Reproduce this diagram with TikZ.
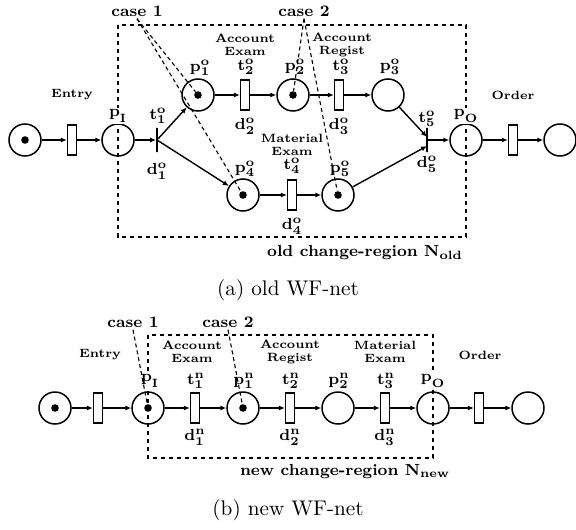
\documentclass[tikz,border=0pt]{standalone}
\usepackage{amsmath}
\usepackage{tikz}
\usetikzlibrary{arrows.meta,positioning}
\newcommand{\lbl}[3]{$\mathrm{#1}^{\mathrm{#2}}_{\mathrm{#3}}$}

\begin{document}
\begin{tikzpicture}[
  x=0.5pt, y=-0.5pt,
  pl/.style={draw, circle, minimum size=16pt, inner sep=0pt, line width=0.75pt},
  tk/.style={circle, fill, minimum size=3.8pt, inner sep=0pt},
  tr/.style={draw, minimum width=4.5pt, minimum height=15pt, inner sep=0pt, line width=0.7pt},
  bar/.style={draw, minimum width=0pt, minimum height=12pt, inner sep=0pt, line width=1pt},
  lb/.style={font=\footnotesize\boldmath, inner sep=0.3pt},
  lbw/.style={lb, fill=white, inner sep=1pt},
  act/.style={font=\fontsize{6}{6.5}\selectfont\bfseries, align=center},
  cas/.style={font=\footnotesize\bfseries, inner sep=1pt},
  reg/.style={dash pattern=on 2.2pt off 1.8pt, line width=0.75pt},
  cs/.style={dash pattern=on 2pt off 1.5pt, line width=0.55pt},
  ar/.style={-{Latex[length=3pt,width=2.6pt]}, line width=0.7pt}]
\useasboundingbox (0,0) rectangle (576,529);
% (a) old WF-net
\draw[reg] (118,25) rectangle (466,237);
\node[pl] (s0) at (25,140) {};
\node[tk] (s0k) at (s0) {};
\node[tr] (e0) at (72,140) {};
\node[pl] (pI) at (118,140) {};
\node[bar] (t1) at (157,140) {};
\node[pl] (p1) at (198,95) {};
\node[tk] (p1k) at (p1) {};
\node[tr] (t2) at (245,95) {};
\node[pl] (p2) at (293,95) {};
\node[tk] (p2k) at (p2) {};
\node[tr] (t3) at (339,95) {};
\node[pl] (p3) at (388,95) {};
\node[pl] (p4) at (243,195) {};
\node[tk] (p4k) at (p4) {};
\node[tr] (t4) at (292,195) {};
\node[pl] (p5) at (338,195) {};
\node[tk] (p5k) at (p5) {};
\node[bar] (t5) at (427,140) {};
\node[pl] (pO) at (466,140) {};
\node[tr] (o0) at (513,140) {};
\node[pl] (s1) at (560,140) {};
\foreach \a/\b in {s0/e0,e0/pI,pI/t1,t1/p1,t1/p4,p1/t2,t2/p2,p2/t3,t3/p3,p4/t4,t4/p5,t5/pO,pO/o0,o0/s1}
  {\draw[ar] (\a) -- (\b);}
\draw[ar] (p3) -- ([yshift=1.5pt]t5.center);
\draw[ar] (p5) -- ([yshift=-3pt]t5.center);
\node[lbw] at (118,116) {\lbl{p}{}{I}};
\node[lbw] at (466,116) {\lbl{p}{}{O}};
\node[lb] at (158,116) {\lbl{t}{o}{1}};
\node[lb] at (157,171) {\lbl{d}{o}{1}};
\node[lb] at (200,68) {\lbl{p}{o}{1}};
\node[lb] at (246,67) {\lbl{t}{o}{2}};
\node[lb] at (245,126) {\lbl{d}{o}{2}};
\node[lb] at (295,67) {\lbl{p}{o}{2}};
\node[lb] at (341,67) {\lbl{t}{o}{3}};
\node[lb] at (339,126) {\lbl{d}{o}{3}};
\node[lb] at (390,67) {\lbl{p}{o}{3}};
\node[lb] at (427,119) {\lbl{t}{o}{5}};
\node[lb] at (427,164) {\lbl{d}{o}{5}};
\node[lb] at (245,169) {\lbl{p}{o}{4}};
\node[lb] at (292,166) {\lbl{t}{o}{4}};
\node[lb] at (292,226) {\lbl{d}{o}{4}};
\node[lb] at (340,169) {\lbl{p}{o}{5}};
\node[act] at (72,95) {Entry};
\node[act] at (513,95) {Order};
\node[act] at (245,45) {Account\\Exam};
\node[act] at (342,45) {Account\\Regist};
\node[act] at (292,145) {Material\\Exam};
\node[cas] (c1) at (137,11) {case 1};
\node[cas] (c2) at (304,11) {case 2};
\foreach \k in {p1k,p4k} {\draw[cs] (c1.south) -- (\k);}
\foreach \k in {p2k,p5k} {\draw[cs] (c2.south) -- (\k);}
\node[cas] at (365,253) {old change-region N$_{\text{old}}$};
\node[font=\fontsize{10.6}{12}\selectfont] at (288,290) {(a) old WF-net};
% (b) new WF-net
\draw[reg] (148,335) rectangle (433,458);
\node[pl] (n0) at (55,408) {};
\node[tk] (n0k) at (n0) {};
\node[tr] (ne) at (98,408) {};
\node[pl] (nI) at (148,408) {};
\node[tk] (nIk) at (nI) {};
\node[tr] (n1) at (195,408) {};
\node[pl] (q1) at (243,408) {};
\node[tk] (q1k) at (q1) {};
\node[tr] (n2) at (290,408) {};
\node[pl] (q2) at (338,408) {};
\node[tr] (n3) at (385,408) {};
\node[pl] (nO) at (433,408) {};
\node[tr] (no) at (479,408) {};
\node[pl] (ns) at (528,408) {};
\foreach \a/\b in {n0/ne,ne/nI,nI/n1,n1/q1,q1/n2,n2/q2,q2/n3,n3/nO,nO/no,no/ns}
  {\draw[ar] (\a) -- (\b);}
\node[lbw] at (150,381) {\lbl{p}{}{I}};
\node[lbw] at (433,381) {\lbl{p}{}{O}};
\node[lb] at (196,381) {\lbl{t}{n}{1}};
\node[lb] at (195,437) {\lbl{d}{n}{1}};
\node[lb] at (244,381) {\lbl{p}{n}{1}};
\node[lb] at (291,381) {\lbl{t}{n}{2}};
\node[lb] at (290,437) {\lbl{d}{n}{2}};
\node[lb] at (339,381) {\lbl{p}{n}{2}};
\node[lb] at (386,381) {\lbl{t}{n}{3}};
\node[lb] at (385,437) {\lbl{d}{n}{3}};
\node[act] at (100,355) {Entry};
\node[act] at (480,355) {Order};
\node[act] at (192,352) {Account\\Exam};
\node[act] at (290,352) {Account\\Regist};
\node[act] at (385,352) {Material\\Exam};
\node[cas] (c3) at (133,322) {case 1};
\node[cas] (c4) at (228,322) {case 2};
\draw[cs] (c3.south) -- (nIk);
\draw[cs] (c4.south) -- (q1k);
\node[cas] at (345,472) {new change-region N$_{\text{new}}$};
\node[font=\fontsize{10.6}{12}\selectfont] at (288,510) {(b) new WF-net};
\end{tikzpicture}
\end{document}
